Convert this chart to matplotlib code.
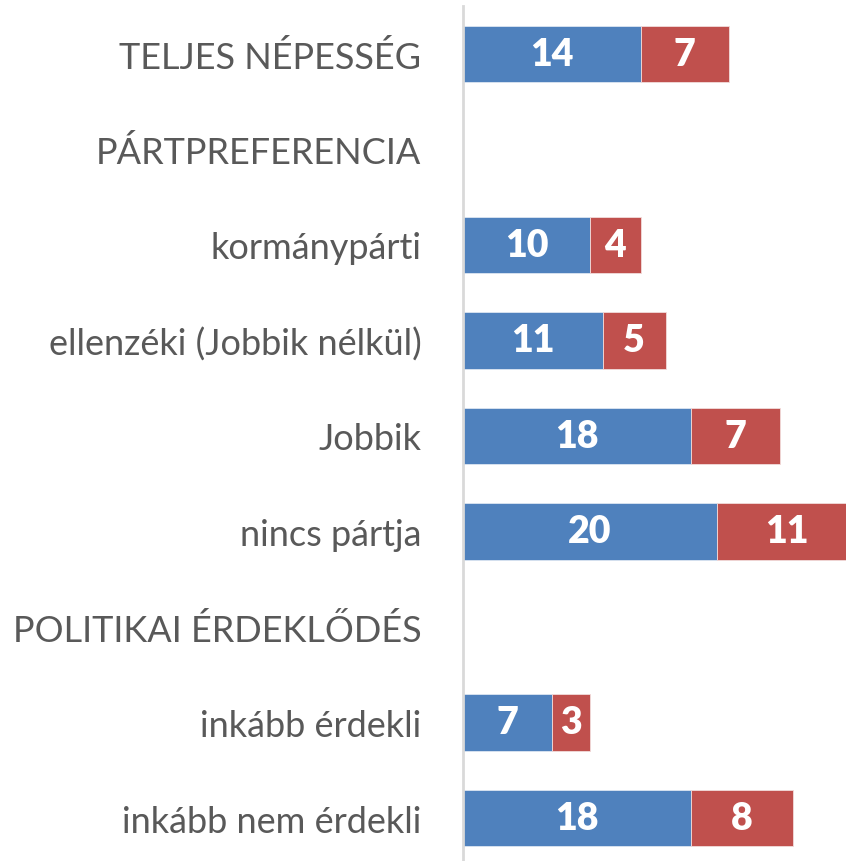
import matplotlib
matplotlib.use("Agg")
import matplotlib.pyplot as plt

# === DADOS ===
categorias = [
    "TELJES NÉPESSÉG",
    "PÁRTPREFERENCIA",
    "kormánypárti",
    "ellenzéki (Jobbik nélkül)",
    "Jobbik",
    "nincs pártja",
    "POLITIKAI ÉRDEKLŐDÉS",
    "inkább érdekli",
    "inkább nem érdekli",
]
serie_azul = [14, None, 10, 11, 18, 20, None, 7, 18]
serie_vermelha = [7, None, 4, 5, 7, 11, None, 3, 8]

AZUL = "#4F81BD"
VERMELHO = "#C0504D"
CINZA = "#595959"
FONTE = ["Lato", "DejaVu Sans"]

# === FIGURA ===
W, H = 846, 862
fig = plt.figure(figsize=(W / 100, H / 100), dpi=100)
ax = fig.add_axes([463 / W, 0.0, 1 - 463 / W, 1 - 7 / H])

for i, (a, v) in enumerate(zip(serie_azul, serie_vermelha)):
    if a is None:
        continue
    ax.barh(i, a, height=0.59, color=AZUL, edgecolor="#DCE6F2", linewidth=0.6)
    ax.barh(i, v, left=a, height=0.59, color=VERMELHO, edgecolor="#F2DCDB", linewidth=0.6)
    ax.text(a / 2, i, str(a), ha="center", va="center", color="white",
            fontsize=27, fontweight="heavy", family=FONTE)
    ax.text(a + v / 2, i, str(v), ha="center", va="center", color="white",
            fontsize=27, fontweight="heavy", family=FONTE)

ax.set_xlim(0, 30.2)
ax.set_ylim(8.45, -0.5)
ax.set_yticks(range(len(categorias)))
ax.set_yticklabels(categorias, family=FONTE, fontsize=26, color=CINZA)
ax.tick_params(axis="y", length=0, pad=30)
ax.set_xticks([])
for lado in ["top", "right", "bottom"]:
    ax.spines[lado].set_visible(False)
ax.spines["left"].set_color("#D9D9D9")
ax.spines["left"].set_linewidth(2)

fig.savefig("out.png", dpi=100)
